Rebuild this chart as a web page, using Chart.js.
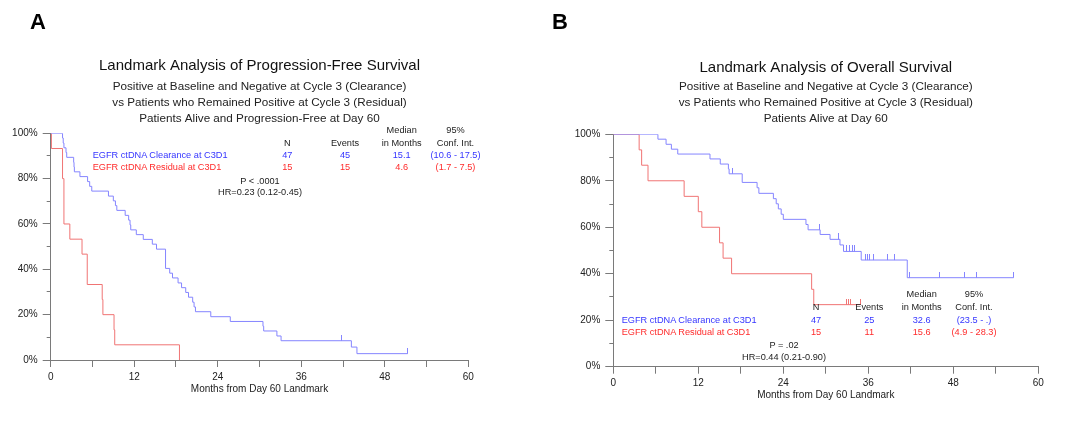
<!DOCTYPE html>
<html>
<head>
<meta charset="utf-8">
<script src="https://cdn.jsdelivr.net/npm/chart.js@4.4.1/dist/chart.umd.min.js"></script>
<style>
html, body { margin: 0; padding: 0; background: #fff; }
#wrap { position: relative; width: 1080px; height: 425px; overflow: hidden; font-family: 'Liberation Sans', Arial, sans-serif; }
.panel { position: absolute; top: 0; width: 540px; height: 425px; }
.txt { position: absolute; white-space: nowrap; font-size: 9.2px; line-height: 1; color: #222; transform: translate(-50%, -50%); }
.txt.left { transform: translate(0, -50%); }
.letter { position: absolute; font-size: 22px; font-weight: bold; line-height: 1; color: #000; transform: translate(-50%, -50%); }
</style>
</head>
<body>
<div id="wrap">
  <div class="panel" style="left:0"><canvas id="pfsChart"></canvas></div>
  <div class="panel" style="left:540px"><canvas id="osChart"></canvas></div>
  <div class="letter" style="left:38px;top:22px">A</div>
  <div class="letter" style="left:560px;top:22px">B</div>
</div>
<script>
// Kaplan-Meier curves: months from landmark / survival (%)

// A: progression-free survival
var pfsClearMonths = [0, 1.7, 1.8, 1.9, 2.2, 2.3, 3.3, 3.35, 3.4, 4.2, 5.3, 5.6, 5.9, 8.3, 9.0, 9.3, 9.5, 10.7, 11.2, 11.4, 11.5, 12.3, 13.3, 14.6, 15.2, 16.5, 17.1, 17.5, 18.3, 18.8, 19.4, 19.8, 20.4, 20.6, 20.8, 23.0, 25.8, 30.5, 30.6, 32.5, 33.1, 43.2, 44.0, 51.3];
var pfsClearSurv   = [100, 97.9, 95.7, 93.6, 91.5, 89.4, 87.2, 85.1, 83.0, 80.9, 78.7, 76.6, 74.5, 72.3, 70.2, 68.1, 66.0, 63.8, 61.7, 59.6, 57.4, 55.3, 53.2, 51.1, 48.9, 40.4, 38.3, 36.2, 34.0, 31.9, 29.8, 27.7, 25.5, 23.4, 21.3, 19.1, 17.0, 14.9, 12.8, 10.6, 8.5, 5.7, 2.8, 2.8];
var pfsClearCensor = [41.8, 51.3];
var pfsResidMonths = [0, 0.1, 1.7, 1.9, 2.75, 4.5, 5.25, 7.4, 7.5, 9.1, 9.2, 18.5];
var pfsResidSurv   = [100, 93.3, 80, 60, 53.3, 46.7, 33.3, 26.7, 20, 13.3, 6.7, 0];
var pfsResidCensor = [];

// B: overall survival
var osClearMonths = [0, 6.3, 7.45, 8.2, 9.1, 13.65, 15.1, 16.25, 16.35, 18.2, 20.3, 20.55, 22.6, 23.0, 23.3, 23.7, 24.0, 27.2, 27.5, 29.2, 30.6, 32.0, 32.5, 35.0, 41.5, 56.5];
var osClearSurv   = [100, 97.9, 95.7, 93.6, 91.5, 89.4, 87.2, 85.1, 83.0, 79.3, 77.0, 74.6, 72.3, 70.1, 67.9, 65.6, 63.4, 61.2, 58.9, 56.9, 54.8, 52.4, 49.6, 45.9, 38.3, 38.3];
var osClearCensor = [16.8, 29.1, 31.8, 32.9, 33.3, 33.7, 34.1, 35.6, 35.9, 36.2, 36.7, 38.7, 39.7, 41.8, 46.0, 49.6, 51.3, 56.5];
var osResidMonths = [0, 3.65, 4.0, 4.9, 10.0, 12.0, 12.5, 15.0, 15.5, 16.7, 28.0, 28.3, 34.9];
var osResidSurv   = [100, 93.3, 86.7, 80, 73.3, 66.7, 60, 53.3, 46.7, 40, 33.3, 26.7, 26.7];
var osResidCensor = [32.9, 33.2, 33.5, 34.9];

// axis ticks with labels
var xLabelTicks = [0, 12, 24, 36, 48, 60];
var yLabelTicks = [0, 20, 40, 60, 80, 100];

// summary tables
var groupLabels = ['EGFR ctDNA Clearance at C3D1', 'EGFR ctDNA Residual at C3D1'];
var headRow1 = ['', '', 'Median', '95%'];
var headRow2 = ['N', 'Events', 'in Months', 'Conf. Int.'];
var pfsStats = [['47', '45', '15.1', '(10.6 - 17.5)'], ['15', '15', '4.6', '(1.7 - 7.5)']];
var pfsTest = ['P < .0001', 'HR=0.23 (0.12-0.45)'];
var osStats = [['47', '25', '32.6', '(23.5 - .)'], ['15', '11', '15.6', '(4.9 - 28.3)']];
var osTest = ['P = .02', 'HR=0.44 (0.21-0.90)'];

var blueLine = '#8585ff';
var redLine = '#f07474';
var blueText = '#3535ff';
var redText = '#ff2b2b';
var axisColor = '#7a7a7a';

Chart.defaults.font.family = "'Liberation Sans', Arial, sans-serif";

function toPoints(months, surv) {
    return months.map(function(m, i) { return {x: m, y: surv[i]}; });
}

// survival level of a curve at time t (for censor marks)
function survAt(months, surv, t) {
    var s = surv[0];
    for (var i = 0; i < months.length; i++) {
        if (months[i] <= t) s = surv[i];
    }
    return s;
}

function censorPoints(months, surv, censor) {
    return censor.map(function(t) { return {x: t, y: survAt(months, surv, t)}; });
}

// small upward tick used as point style
function censorMark(color) {
    var c = document.createElement('canvas');
    c.width = 1;
    c.height = 12;
    var g = c.getContext('2d');
    g.fillStyle = color;
    g.fillRect(0, 0, 1, 6);
    return c;
}

function createKMChart(canvasId, o) {
    var ctx = document.getElementById(canvasId);
    if (!ctx) return;

    return new Chart(ctx, {
        type: 'line',
        data: {
            datasets: [
                { data: toPoints(o.clearMonths, o.clearSurv), borderColor: blueLine, borderWidth: 1, stepped: 'before', pointRadius: 0, fill: false },
                { data: toPoints(o.residMonths, o.residSurv), borderColor: redLine, borderWidth: 1, stepped: 'before', pointRadius: 0, fill: false },
                { data: censorPoints(o.clearMonths, o.clearSurv, o.clearCensor), showLine: false, pointStyle: censorMark(blueLine), pointRadius: 3 },
                { data: censorPoints(o.residMonths, o.residSurv, o.residCensor), showLine: false, pointStyle: censorMark(redLine), pointRadius: 3 }
            ]
        },
        options: {
            responsive: true,
            maintainAspectRatio: false,
            animation: false,
            layout: { padding: o.padding },
            plugins: {
                legend: { display: false },
                tooltip: { enabled: false },
                title: {
                    display: true,
                    text: o.title,
                    fullSize: false,
                    color: '#111',
                    font: { size: 15, weight: 'normal' },
                    padding: o.titlePad
                },
                subtitle: {
                    display: true,
                    text: o.subtitle,
                    fullSize: false,
                    color: '#222',
                    font: { size: 11.7, lineHeight: '16px' },
                    padding: o.subPad
                }
            },
            scales: {
                x: {
                    type: 'linear',
                    min: 0,
                    max: 60,
                    afterFit: function(scale) { scale.height = o.xHeight; },
                    ticks: {
                        stepSize: 6,
                        autoSkip: false,
                        maxRotation: 0,
                        padding: 4,
                        color: '#222',
                        font: { size: 10 },
                        callback: function(v) { return xLabelTicks.indexOf(v) >= 0 ? String(v) : ''; }
                    },
                    grid: { drawOnChartArea: false, tickLength: 7, tickColor: axisColor },
                    border: { color: axisColor },
                    title: {
                        display: true,
                        text: 'Months from Day 60 Landmark',
                        color: '#222',
                        font: { size: 10 },
                        padding: { top: 0, bottom: o.xTitlePad }
                    }
                },
                y: {
                    min: 0,
                    max: 100,
                    afterFit: function(scale) { scale.width = o.yWidth; },
                    ticks: {
                        stepSize: 10,
                        padding: 5,
                        color: '#222',
                        font: { size: 10 },
                        callback: function(v) { return yLabelTicks.indexOf(v) >= 0 ? v + '%' : ''; }
                    },
                    grid: {
                        drawOnChartArea: false,
                        tickLength: 8,
                        tickColor: axisColor,
                        // shorter marks between labelled ticks
                        tickBorderDash: function(c) { return yLabelTicks.indexOf(c.tick.value) >= 0 ? [] : [0, 4, 20]; }
                    },
                    border: { color: axisColor }
                }
            }
        }
    });
}

function addText(text, x, y, color, leftAlign) {
    var d = document.createElement('div');
    d.className = leftAlign ? 'txt left' : 'txt';
    d.textContent = text;
    d.style.left = x + 'px';
    d.style.top = y + 'px';
    if (color) d.style.color = color;
    document.getElementById('wrap').appendChild(d);
}

function addTable(stats, test, t) {
    headRow1.forEach(function(h, i) { if (h) addText(h, t.colX[i], t.head1Y); });
    headRow2.forEach(function(h, i) { addText(h, t.colX[i], t.head2Y); });
    var colors = [blueText, redText];
    stats.forEach(function(row, r) {
        addText(groupLabels[r], t.labelX, t.rowY[r], colors[r], true);
        row.forEach(function(v, i) { addText(v, t.colX[i], t.rowY[r], colors[r]); });
    });
    addText(test[0], t.testX, t.testY[0]);
    addText(test[1], t.testX, t.testY[1]);
}

createKMChart('pfsChart', {
    clearMonths: pfsClearMonths, clearSurv: pfsClearSurv, clearCensor: pfsClearCensor,
    residMonths: pfsResidMonths, residSurv: pfsResidSurv, residCensor: pfsResidCensor,
    title: 'Landmark Analysis of Progression-Free Survival',
    subtitle: ['Positive at Baseline and Negative at Cycle 3 (Clearance)',
               'vs Patients who Remained Positive at Cycle 3 (Residual)',
               'Patients Alive and Progression-Free at Day 60'],
    padding: { left: 0, right: 71.7, top: 0, bottom: 29 },
    titlePad: { top: 57, bottom: 4 },
    subPad: { top: 0, bottom: 6.3 },
    yWidth: 50.7,
    xHeight: 36,
    xTitlePad: 1
});

createKMChart('osChart', {
    clearMonths: osClearMonths, clearSurv: osClearSurv, clearCensor: osClearCensor,
    residMonths: osResidMonths, residSurv: osResidSurv, residCensor: osResidCensor,
    title: 'Landmark Analysis of Overall Survival',
    subtitle: ['Positive at Baseline and Negative at Cycle 3 (Clearance)',
               'vs Patients who Remained Positive at Cycle 3 (Residual)',
               'Patients Alive at Day 60'],
    padding: { left: 0, right: 41.7, top: 0, bottom: 23.3 },
    titlePad: { top: 59, bottom: 2 },
    subPad: { top: 0, bottom: 7.3 },
    yWidth: 73.3,
    xHeight: 35,
    xTitlePad: 0.7
});

addTable(pfsStats, pfsTest, {
    labelX: 92.7, colX: [287.3, 345, 401.7, 455.5],
    head1Y: 130.7, head2Y: 144, rowY: [155.5, 168.3],
    testX: 260, testY: [181.7, 192.7]
});

addTable(osStats, osTest, {
    labelX: 621.7, colX: [816, 869.3, 921.7, 974],
    head1Y: 295, head2Y: 307.7, rowY: [320.7, 333.2],
    testX: 784, testY: [346, 358]
});
</script>
</body>
</html>
